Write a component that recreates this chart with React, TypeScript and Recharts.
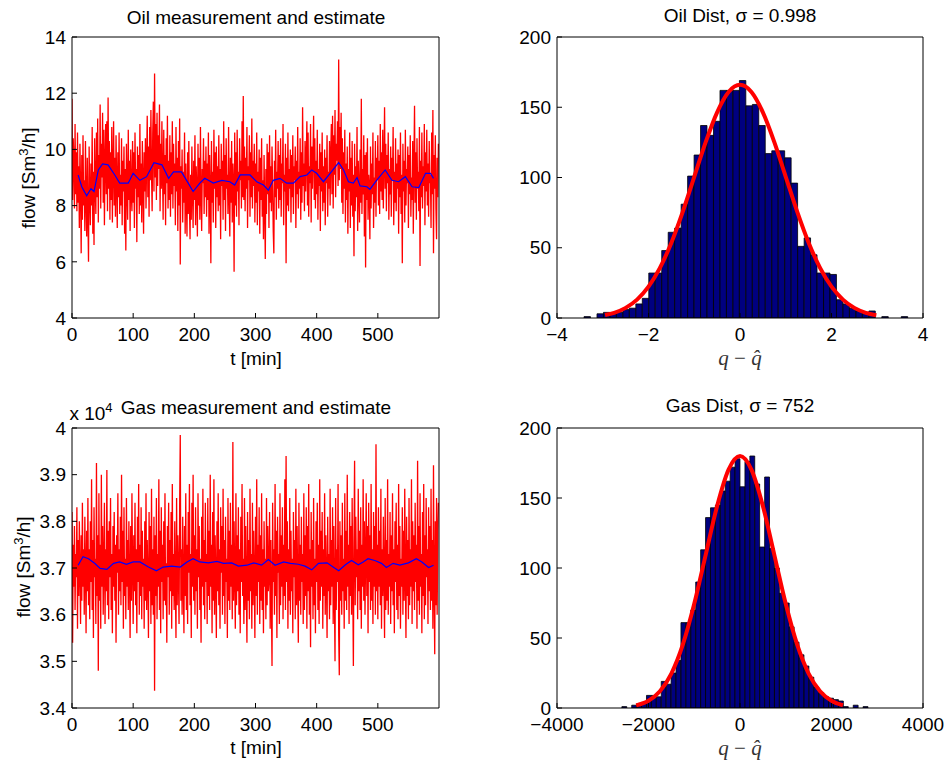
import React from "react";
import { Bar, ComposedChart, Line, LineChart, XAxis, YAxis } from "recharts";

const FONT = '"Liberation Sans", Arial, sans-serif';
const SERIF = '"Liberation Serif", "DejaVu Serif", serif';

// oil flow measurement, one sample per minute, t = 0..599 [Sm3/h]
const oilMeasured = [
  11.8, 8.2, 10.4, 9.6, 7.9, 10.9, 8.4, 9.9, 7.8, 10.6, 8.1, 9.4, 7.2, 10.2, 8.6, 6.3, 9.8, 7.5, 10.5, 8.0,
  8.9, 7.1, 10.3, 8.2, 6.9, 9.7, 7.6, 6.0, 10.1, 8.4, 7.3, 9.5, 8.0, 10.8, 7.0, 9.2, 6.6, 10.4, 8.7, 7.7,
  10.6, 8.3, 11.1, 7.4, 9.8, 8.6, 11.6, 7.9, 10.2, 9.0, 11.3, 8.1, 10.7, 7.3, 9.5, 10.9, 8.4, 11.0, 7.8, 11.85,
  8.6, 10.3, 7.5, 9.9, 8.2, 10.8, 7.4, 9.4, 11.0, 8.0, 9.7, 7.6, 10.5, 8.8, 7.2, 9.9, 8.3, 10.6, 7.7, 9.1,
  8.0, 10.4, 7.3, 9.6, 8.5, 10.1, 7.0, 9.3, 6.4, 10.2, 8.7, 7.5, 10.7, 8.2, 9.6, 7.1, 10.0, 8.4, 7.8, 10.3,
  8.1, 9.9, 7.2, 10.6, 8.6, 9.3, 6.7, 10.1, 8.3, 9.8, 7.7, 10.9, 8.0, 9.5, 7.4, 10.3, 8.8, 7.0, 9.9, 8.5,
  10.4, 7.9, 9.6, 11.2, 8.3, 10.1, 7.6, 10.8, 8.9, 11.4, 9.2, 7.8, 10.6, 11.7, 8.5, 12.7, 9.0, 10.9, 8.2, 11.3,
  8.7, 10.5, 9.3, 11.6, 7.8, 10.2, 8.6, 11.0, 9.1, 7.5, 10.7, 8.4, 9.8, 7.3, 10.4, 8.8, 11.2, 7.9, 9.6, 8.2,
  10.5, 7.6, 9.9, 8.4, 11.0, 7.9, 10.2, 8.7, 9.5, 7.3, 10.8, 8.5, 9.7, 7.1, 10.3, 8.0, 11.1, 5.9, 9.4, 8.6,
  10.0, 7.4, 9.2, 8.1, 10.6, 7.0, 9.5, 8.3, 6.9, 9.9, 7.7, 10.3, 8.0, 6.8, 9.1, 7.5, 10.1, 8.4, 7.2, 9.6,
  8.2, 10.5, 7.3, 9.4, 8.6, 6.9, 10.2, 8.0, 9.7, 7.5, 10.8, 8.4, 7.1, 9.3, 8.8, 10.4, 7.7, 9.6, 8.3, 10.1,
  7.6, 9.5, 8.2, 10.6, 7.0, 9.8, 8.5, 5.95, 10.3, 8.1, 9.2, 7.4, 10.7, 8.6, 9.9, 7.2, 10.1, 8.3, 9.4, 7.8,
  10.5, 8.0, 9.3, 6.8, 10.2, 8.7, 9.6, 7.5, 11.0, 8.2, 9.8, 7.1, 10.4, 8.6, 9.1, 7.7, 10.8, 8.4, 6.9, 9.7,
  8.1, 10.3, 7.4, 9.5, 8.8, 5.65, 10.6, 8.0, 9.9, 7.6, 10.7, 8.5, 9.2, 7.3, 10.4, 8.9, 9.6, 7.9, 11.0, 8.3,
  11.9, 8.2, 10.1, 7.8, 9.7, 8.6, 10.8, 7.2, 9.4, 8.9, 10.5, 7.6, 9.9, 8.3, 11.1, 7.9, 9.6, 8.7, 10.2, 7.4,
  9.5, 8.1, 10.6, 7.3, 9.2, 8.5, 10.0, 7.0, 9.7, 8.2, 10.4, 7.6, 8.9, 6.8, 9.8, 8.0, 6.1, 9.3, 7.7, 10.2,
  8.4, 9.9, 7.2, 10.5, 8.1, 9.4, 7.8, 10.1, 8.7, 7.1, 6.3, 9.6, 8.3, 10.7, 7.5, 9.2, 8.6, 10.3, 7.9, 9.8,
  8.2, 10.4, 7.6, 9.5, 8.8, 10.9, 7.3, 9.1, 8.5, 10.2, 5.95, 9.7, 8.0, 10.6, 7.8, 9.3, 8.6, 10.0, 7.4, 9.8,
  8.3, 10.5, 7.7, 9.4, 8.9, 10.1, 7.2, 9.6, 8.4, 10.8, 7.9, 9.2, 8.6, 10.4, 7.5, 9.9, 8.1, 11.5, 8.7, 9.5,
  7.8, 10.3, 8.5, 9.7, 11.0, 8.0, 10.6, 7.6, 9.4, 8.8, 10.9, 7.4, 10.1, 8.6, 9.8, 11.2, 8.2, 10.4, 7.9, 9.6,
  8.4, 10.7, 7.5, 9.3, 8.7, 10.2, 7.1, 9.9, 8.5, 10.6, 7.8, 9.4, 8.1, 10.0, 7.3, 9.7, 8.8, 10.5, 7.6, 9.2,
  8.6, 10.3, 8.0, 9.8, 10.9, 8.4, 11.2, 7.9, 10.5, 9.1, 11.4, 8.3, 10.2, 9.6, 11.0, 8.7, 13.2, 8.9, 10.8, 9.3,
  11.3, 8.1, 10.4, 7.7, 9.9, 8.6, 10.7, 7.4, 9.5, 8.2, 10.1, 7.0, 9.3, 8.5, 10.6, 7.2, 9.7, 8.0, 10.3, 7.6,
  9.1, 6.2, 10.2, 7.8, 9.4, 8.3, 10.8, 7.1, 9.6, 8.6, 7.4, 10.0, 8.1, 11.8, 7.7, 9.3, 8.4, 10.5, 6.9, 9.8,
  5.8, 9.9, 8.2, 10.4, 7.5, 9.1, 8.7, 6.8, 10.1, 7.9, 9.5, 8.4, 10.6, 7.2, 9.0, 8.1, 10.3, 7.6, 9.7, 8.9,
  10.5, 8.0, 9.6, 7.7, 10.9, 8.5, 9.9, 8.2, 10.7, 7.9, 9.4, 11.5, 8.6, 10.2, 7.8, 9.8, 8.8, 10.6, 7.5, 9.3,
  8.4, 10.1, 7.6, 9.7, 8.9, 10.8, 7.3, 9.2, 8.1, 10.4, 7.8, 9.5, 8.6, 10.0, 7.0, 9.8, 8.3, 10.6, 7.7, 9.1,
  5.95, 10.2, 8.5, 9.6, 7.4, 10.7, 8.0, 9.3, 8.8, 10.1, 7.2, 9.8, 8.4, 10.5, 7.6, 9.0, 8.2, 10.3, 7.0, 9.5,
  11.55, 8.1, 9.9, 7.5, 10.4, 8.6, 9.2, 7.8, 10.8, 5.85, 9.6, 8.3, 10.6, 7.9, 9.4, 8.7, 10.9, 7.3, 9.9, 8.5,
  10.7, 8.0, 9.5, 7.6, 10.3, 8.8, 9.1, 7.2, 10.6, 8.4, 11.4, 6.3, 9.8, 8.6, 10.5, 7.9, 6.8, 9.7, 8.3, 10.2,
];

// oil estimate (blue)
const oilEstimateT = [
  10, 16, 24, 31, 36, 43, 50, 59, 70, 78, 92, 100, 111, 122, 134, 147, 158, 166, 179, 190,
  198, 209, 217, 231, 245, 258, 266, 275, 291, 302, 313, 321, 329, 340, 351, 362, 373, 384, 392, 400,
  411, 422, 436, 444, 452, 460, 466, 471, 482, 487, 498, 512, 523, 534, 545, 556, 567, 578, 586, 591,
];
const oilEstimate = [
  9.09, 8.67, 8.35, 8.6, 8.5, 9.27, 9.48, 9.45, 9.09, 8.8, 8.8, 9.15, 8.9, 9.03, 9.53, 9.45, 8.97, 9.2, 9.2, 8.8,
  8.5, 8.8, 8.97, 8.8, 8.9, 8.85, 8.73, 9.09, 9.09, 8.85, 8.73, 8.55, 8.9, 8.97, 8.8, 8.8, 9.03, 9.09, 9.27, 9.15,
  8.85, 9.15, 9.53, 9.27, 8.85, 8.8, 9.0, 8.7, 8.67, 8.58, 8.9, 9.27, 8.9, 8.85, 9.03, 8.67, 8.64, 9.15, 9.15, 8.97,
];

// gas flow measurement, one sample per minute [x 10^4 Sm3/h]
const gasMeasured = [
  3.82, 3.54, 3.75, 3.66, 3.79, 3.61, 3.73, 3.68, 3.83, 3.57, 3.76, 3.64, 3.80, 3.69, 3.58, 3.77, 3.63, 3.84, 3.66, 3.74,
  3.60, 3.81, 3.70, 3.56, 3.78, 3.65, 3.85, 3.62, 3.74, 3.59, 3.80, 3.67, 3.89, 3.61, 3.76, 3.55, 3.83, 3.68, 3.72, 3.58,
  3.925, 3.64, 3.77, 3.48, 3.86, 3.63, 3.75, 3.57, 3.90, 3.66, 3.79, 3.60, 3.71, 3.84, 3.58, 3.74, 3.65, 3.91, 3.62, 3.78,
  3.59, 3.80, 3.68, 3.85, 3.61, 3.73, 3.56, 3.79, 3.66, 3.82, 3.63, 3.75, 3.54, 3.77, 3.69, 3.86, 3.60, 3.74, 3.65, 3.81,
  3.62, 3.90, 3.67, 3.78, 3.57, 3.83, 3.64, 3.72, 3.59, 3.85, 3.66, 3.76, 3.61, 3.80, 3.68, 3.55, 3.79, 3.63, 3.86, 3.70,
  3.58, 3.77, 3.65, 3.84, 3.62, 3.74, 3.56, 3.81, 3.67, 3.88, 3.60, 3.75, 3.64, 3.83, 3.59, 3.78, 3.66, 3.72, 3.57, 3.80,
  3.63, 3.86, 3.61, 3.76, 3.68, 3.55, 3.82, 3.65, 3.79, 3.58, 3.87, 3.62, 3.74, 3.60, 3.81, 3.437, 3.77, 3.64, 3.85, 3.59,
  3.73, 3.66, 3.89, 3.61, 3.78, 3.56, 3.83, 3.67, 3.75, 3.59, 3.80, 3.63, 3.86, 3.62, 3.71, 3.54, 3.79, 3.68, 3.84, 3.60,
  3.76, 3.65, 3.82, 3.57, 3.88, 3.64, 3.73, 3.61, 3.80, 3.66, 3.55, 3.85, 3.62, 3.77, 3.69, 3.58, 3.83, 3.985, 3.63, 3.74,
  3.60, 3.81, 3.67, 3.56, 3.79, 3.64, 3.86, 3.61, 3.75, 3.58, 3.82, 3.69, 3.88, 3.62, 3.73, 3.55, 3.84, 3.66, 3.90, 3.63,
  3.77, 3.60, 3.83, 3.65, 3.74, 3.57, 3.86, 3.68, 3.79, 3.61, 3.72, 3.54, 3.81, 3.66, 3.87, 3.62, 3.76, 3.59, 3.84, 3.67,
  3.73, 3.58, 3.85, 3.64, 3.78, 3.61, 3.90, 3.66, 3.75, 3.56, 3.82, 3.63, 3.89, 3.60, 3.77, 3.68, 3.55, 3.80, 3.65, 3.86,
  3.62, 3.74, 3.57, 3.83, 3.69, 3.79, 3.60, 3.87, 3.64, 3.76, 3.58, 3.81, 3.67, 3.72, 3.55, 3.85, 3.63, 3.78, 3.61, 3.84,
  3.66, 3.75, 3.59, 3.97, 3.63, 3.80, 3.68, 3.57, 3.86, 3.62, 3.77, 3.65, 3.83, 3.60, 3.74, 3.56, 3.81, 3.67, 3.88, 3.64,
  3.72, 3.58, 3.85, 3.61, 3.79, 3.66, 3.54, 3.82, 3.63, 3.76, 3.59, 3.87, 3.65, 3.73, 3.57, 3.84, 3.62, 3.78, 3.68, 3.55,
  3.81, 3.64, 3.89, 3.60, 3.75, 3.67, 3.83, 3.58, 3.77, 3.63, 3.86, 3.61, 3.74, 3.56, 3.80, 3.66, 3.72, 3.59, 3.85, 3.62,
  3.79, 3.65, 3.68, 3.82, 3.57, 3.76, 3.63, 3.49, 3.84, 3.67, 3.74, 3.60, 3.88, 3.64, 3.78, 3.55, 3.81, 3.69, 3.73, 3.58,
  3.86, 3.62, 3.77, 3.66, 3.83, 3.59, 3.75, 3.64, 3.89, 3.61, 3.94, 3.67, 3.80, 3.57, 3.74, 3.63, 3.85, 3.60, 3.78, 3.65,
  3.72, 3.56, 3.82, 3.68, 3.76, 3.59, 3.87, 3.62, 3.79, 3.66, 3.54, 3.84, 3.63, 3.75, 3.60, 3.81, 3.67, 3.73, 3.58, 3.86,
  3.61, 3.77, 3.64, 3.83, 3.57, 3.79, 3.65, 3.88, 3.60, 3.74, 3.53, 3.82, 3.66, 3.76, 3.59, 3.85, 3.62, 3.72, 3.56, 3.80,
  3.67, 3.84, 3.61, 3.75, 3.58, 3.89, 3.63, 3.78, 3.66, 3.82, 3.57, 3.74, 3.64, 3.86, 3.60, 3.77, 3.68, 3.55, 3.81, 3.65,
  3.73, 3.59, 3.87, 3.62, 3.76, 3.66, 3.83, 3.58, 3.79, 3.64, 3.50, 3.85, 3.61, 3.74, 3.67, 3.88, 3.56, 3.47, 3.80, 3.63,
  3.77, 3.60, 3.84, 3.65, 3.72, 3.57, 3.86, 3.63, 3.78, 3.61, 3.90, 3.66, 3.75, 3.58, 3.82, 3.64, 3.79, 3.60, 3.85, 3.67,
  3.49, 3.76, 3.93, 3.62, 3.81, 3.68, 3.74, 3.59, 3.87, 3.65, 3.78, 3.61, 3.83, 3.57, 3.75, 3.66, 3.89, 3.63, 3.80, 3.60,
  3.72, 3.86, 3.64, 3.79, 3.56, 3.84, 3.67, 3.77, 3.61, 3.88, 3.63, 3.74, 3.58, 3.82, 3.66, 3.79, 3.60, 3.965, 3.65, 3.75,
  3.59, 3.83, 3.66, 3.78, 3.62, 3.87, 3.57, 3.74, 3.64, 3.81, 3.68, 3.55, 3.85, 3.61, 3.76, 3.63, 3.89, 3.60, 3.73, 3.66,
  3.82, 3.58, 3.77, 3.65, 3.86, 3.62, 3.74, 3.56, 3.80, 3.67, 3.84, 3.61, 3.75, 3.59, 3.88, 3.64, 3.79, 3.57, 3.72, 3.66,
  3.83, 3.60, 3.78, 3.63, 3.87, 3.68, 3.55, 3.81, 3.64, 3.76, 3.59, 3.85, 3.62, 3.74, 3.66, 3.89, 3.58, 3.80, 3.65, 3.77,
  3.61, 3.84, 3.67, 3.75, 3.57, 3.93, 3.63, 3.79, 3.60, 3.86, 3.66, 3.73, 3.56, 3.82, 3.64, 3.88, 3.59, 3.77, 3.62, 3.85,
  3.68, 3.74, 3.58, 3.83, 3.65, 3.79, 3.61, 3.87, 3.63, 3.76, 3.57, 3.92, 3.66, 3.515, 3.80, 3.62, 3.85, 3.60, 3.78, 3.84,
];

// gas estimate (blue)
const gasEstimateT = [
  10, 18, 27, 37, 46, 57, 68, 78, 89, 100, 111, 125, 138, 149, 163, 177, 188, 198, 209, 223,
  237, 248, 261, 272, 286, 297, 310, 321, 332, 346, 357, 370, 381, 392, 403, 417, 428, 436, 447, 457,
  468, 476, 484, 495, 506, 514, 525, 536, 550, 563, 572, 583, 591,
];
const gasEstimate = [
  3.706, 3.724, 3.72, 3.71, 3.699, 3.697, 3.71, 3.713, 3.708, 3.713, 3.713, 3.702, 3.694, 3.702, 3.704, 3.702, 3.713, 3.72, 3.713, 3.711,
  3.714, 3.71, 3.711, 3.704, 3.706, 3.711, 3.706, 3.718, 3.706, 3.713, 3.71, 3.708, 3.704, 3.696, 3.71, 3.711, 3.701, 3.694, 3.707, 3.716,
  3.707, 3.713, 3.72, 3.716, 3.71, 3.701, 3.71, 3.706, 3.711, 3.72, 3.713, 3.701, 3.706,
];

// histograms, 50 bins each
const oilBinFirst = -3.338;
const oilBinWidth = 0.1415;
const oilCounts = [
  1, 0, 3, 4, 3, 4, 6, 7, 10, 14, 32, 32, 48, 61, 64, 81, 101, 116, 137, 130,
  140, 162, 162, 162, 169, 151, 152, 137, 117, 119, 119, 114, 96, 51, 57, 45, 32, 32, 31, 13,
  10, 7, 5, 4, 5, 0, 1, 0, 0, 1,
];
const oilFitX = [-2.95, -2.75, -2.5, -2.25, -2, -1.75, -1.5, -1.25, -1, -0.75, -0.5, -0.25, 0, 0.25, 0.5, 0.75, 1, 1.25, 1.5, 1.75, 2, 2.25, 2.5, 2.75, 2.98];
const oilFitY = [2.1, 3.7, 7.2, 13.1, 22.3, 35.7, 53.6, 75.7, 100.5, 125.2, 146.4, 160.9, 166, 160.9, 146.4, 125.2, 100.5, 75.7, 53.6, 35.7, 22.3, 13.1, 7.2, 3.7, 2.0];

const gasBinFirst = -2528;
const gasBinWidth = 107.6;
const gasCounts = [
  1, 0, 2, 3, 4, 9, 9, 8, 19, 17, 25, 34, 61, 61, 70, 90, 113, 136, 143, 145,
  155, 162, 172, 178, 158, 176, 180, 160, 115, 165, 114, 100, 82, 75, 58, 47, 38, 30, 22, 15,
  11, 8, 7, 6, 5, 1, 0, 2, 0, 1,
];
const gasFitX = [-2270, -2000, -1750, -1500, -1250, -1000, -750, -500, -250, 0, 250, 500, 750, 1000, 1250, 1500, 1750, 2000, 2250];
const gasFitY = [1.9, 5.2, 12.0, 24.6, 45.2, 74.4, 109.4, 144.3, 170.3, 180, 170.3, 144.3, 109.4, 74.4, 45.2, 24.6, 12.0, 5.2, 2.0];

const tTicks = [0, 100, 200, 300, 400, 500];
const oilTicks = [4, 6, 8, 10, 12, 14];
const gasTicks = [3.4, 3.5, 3.6, 3.7, 3.8, 3.9, 4];
const countTicks = [0, 50, 100, 150, 200];
const oilErrTicks = [-4, -2, 0, 2, 4];
const gasErrTicks = [-4000, -2000, 0, 2000, 4000];

const fmtSigned = (v: number) => (v < 0 ? "\u2212" + Math.abs(v) : String(v));
const fmtGas = (v: number) => (Number.isInteger(v) ? String(v) : v.toFixed(1));

const FS = 19;
const tickStyle = { fill: "#000", fontSize: FS, fontFamily: FONT };
const axisCommon = {
  allowDataOverflow: true,
  axisLine: { stroke: "#000" },
  tickLine: { stroke: "#000" },
  tickSize: -5,
  interval: 0 as const,
};

function Label({ cx, cy, rotate, children, style }: any) {
  return (
    <div
      style={{
        position: "absolute",
        left: cx,
        top: cy,
        transform: `translate(-50%, -50%)${rotate ? " rotate(-90deg)" : ""}`,
        whiteSpace: "nowrap",
        fontFamily: FONT,
        fontSize: FS,
        color: "#000",
        lineHeight: 1,
        ...style,
      }}
    >
      {children}
    </div>
  );
}

// the top / right axes only draw the box edges with inward ticks
function TimePanel({ left, top, height, plotTop, xAxisH, measured, estT, est, yDomain, yTicks, yFmt }: any) {
  const meas = measured.map((v: number, i: number) => ({ t: i, v }));
  const estData = estT.map((t: number, i: number) => ({ t, v: est[i] }));
  return (
    <div style={{ position: "absolute", left, top }}>
      <LineChart width={450} height={height} margin={{ top: plotTop - 1, right: 10, left: 0, bottom: 0 }}>
        <XAxis xAxisId="b" type="number" dataKey="t" domain={[0, 600]} ticks={tTicks} height={xAxisH} tickMargin={15} tick={tickStyle} {...axisCommon} />
        <XAxis xAxisId="top" orientation="top" type="number" dataKey="t" domain={[0, 600]} ticks={tTicks} height={1} tick={false} {...axisCommon} />
        <YAxis yAxisId="l" type="number" domain={yDomain} ticks={yTicks} width={72} tickMargin={11} tick={tickStyle} tickFormatter={yFmt} {...axisCommon} />
        <YAxis yAxisId="r" orientation="right" type="number" domain={yDomain} ticks={yTicks} width={1} tick={false} {...axisCommon} />
        <Line xAxisId="top" yAxisId="r" data={estData} dataKey="v" stroke="none" dot={false} isAnimationActive={false} />
        <Line xAxisId="b" yAxisId="l" data={meas} dataKey="v" type="linear" stroke="#ff0000" strokeWidth={1.3} dot={false} isAnimationActive={false} />
        <Line xAxisId="b" yAxisId="l" data={estData} dataKey="v" type="linear" stroke="#0000ff" strokeWidth={1.2} dot={false} isAnimationActive={false} />
      </LineChart>
    </div>
  );
}

function HistPanel({ left, top, height, plotTop, xAxisH, first, width, counts, fitX, fitY, xDomain, xTicks, barSize }: any) {
  const bins = counts.map((n: number, i: number) => ({ x: first + i * width, n }));
  const fit = fitX.map((x: number, i: number) => ({ x, y: fitY[i] }));
  return (
    <div style={{ position: "absolute", left, top }}>
      <ComposedChart width={468} height={height} data={bins} margin={{ top: plotTop - 1, right: 24, left: 0, bottom: 0 }}>
        <XAxis xAxisId="b" type="number" dataKey="x" domain={xDomain} ticks={xTicks} height={xAxisH} tickMargin={15} tick={tickStyle} tickFormatter={fmtSigned} {...axisCommon} />
        <XAxis xAxisId="fit" type="number" dataKey="x" domain={xDomain} hide />
        <XAxis xAxisId="top" orientation="top" type="number" dataKey="x" domain={xDomain} ticks={xTicks} height={1} tick={false} {...axisCommon} />
        <YAxis yAxisId="l" type="number" domain={[0, 200]} ticks={countTicks} width={77} tickMargin={11} tick={tickStyle} {...axisCommon} />
        <YAxis yAxisId="r" orientation="right" type="number" domain={[0, 200]} ticks={countTicks} width={1} tick={false} {...axisCommon} />
        <Line xAxisId="top" yAxisId="r" data={fit} dataKey="y" stroke="none" dot={false} isAnimationActive={false} />
        <Bar xAxisId="b" yAxisId="l" dataKey="n" fill="#000080" stroke="#000" strokeWidth={0.8} barSize={barSize} isAnimationActive={false} />
        <Line xAxisId="fit" yAxisId="l" data={fit} dataKey="y" type="monotone" stroke="#ff0000" strokeWidth={4} dot={false} isAnimationActive={false} />
      </ComposedChart>
    </div>
  );
}

const flowLabel = (
  <>
    flow [Sm<sup style={{ fontSize: 13, verticalAlign: 7 }}>3</sup>/h]
  </>
);
const errLabel = (
  <span style={{ fontFamily: SERIF, fontStyle: "italic", color: "#333", fontSize: 21 }}>
    q <span style={{ fontStyle: "normal" }}>{"\u2212"}</span> q{"\u0302"}
  </span>
);

export default function App() {
  return (
    <div style={{ position: "absolute", left: 0, top: 0, width: 948, height: 762, background: "#fff", overflow: "hidden" }}>
      <TimePanel left={0} top={0} height={380} plotTop={37} xAxisH={62} measured={oilMeasured} estT={oilEstimateT} est={oilEstimate} yDomain={[4, 14]} yTicks={oilTicks} />
      <TimePanel left={0} top={380} height={382} plotTop={48} xAxisH={54} measured={gasMeasured} estT={gasEstimateT} est={gasEstimate} yDomain={[3.4, 4]} yTicks={gasTicks} yFmt={fmtGas} />
      <HistPanel left={480} top={0} height={380} plotTop={37} xAxisH={62} first={oilBinFirst} width={oilBinWidth} counts={oilCounts} fitX={oilFitX} fitY={oilFitY} xDomain={[-4, 4]} xTicks={oilErrTicks} barSize={6.4} />
      <HistPanel left={480} top={380} height={382} plotTop={48} xAxisH={54} first={gasBinFirst} width={gasBinWidth} counts={gasCounts} fitX={gasFitX} fitY={gasFitY} xDomain={[-4000, 4000]} xTicks={gasErrTicks} barSize={4.85} />

      <Label cx={256} cy={17}>Oil measurement and estimate</Label>
      <Label cx={256} cy={358}>t [min]</Label>
      <Label cx={27} cy={178} rotate>{flowLabel}</Label>
      <Label cx={740} cy={15}>Oil Dist, {"\u03c3"} = 0.998</Label>
      <Label cx={740} cy={358}>{errLabel}</Label>

      <Label cx={256} cy={407}>Gas measurement and estimate</Label>
      <Label cx={91} cy={412}>
        x 10<sup style={{ fontSize: 13, verticalAlign: 8 }}>4</sup>
      </Label>
      <Label cx={256} cy={747}>t [min]</Label>
      <Label cx={22} cy={567} rotate>{flowLabel}</Label>
      <Label cx={740} cy={405}>Gas Dist, {"\u03c3"} = 752</Label>
      <Label cx={740} cy={748}>{errLabel}</Label>
    </div>
  );
}
